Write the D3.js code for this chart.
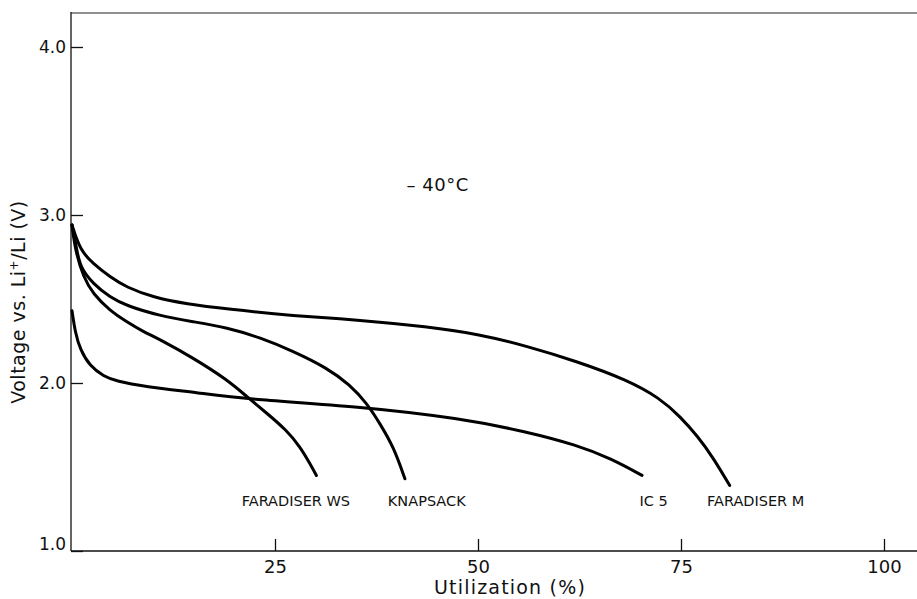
<!DOCTYPE html>
<html>
<head>
<meta charset="utf-8">
<script src="https://cdn.jsdelivr.net/npm/d3@7"></script>
<style>
  body { margin: 0; background: #fff; }
  text { font-family: "DejaVu Sans", sans-serif; fill: #111; }
</style>
</head>
<body>
<svg id="chart"></svg>
<script>
// data (utilization %, voltage V)
var faradiserMUtil = [0, 1.0, 2.6, 4.7, 6.7, 10.0, 14.1, 19.1, 27.2, 35.5, 43.7, 50.2, 56.0, 62.1, 68.3, 72.4, 74.9, 77.1, 78.9, 81.0];
var faradiserMVolt = [2.94, 2.79, 2.71, 2.63, 2.57, 2.51, 2.47, 2.44, 2.40, 2.375, 2.335, 2.29, 2.22, 2.13, 2.02, 1.91, 1.80, 1.68, 1.56, 1.39];

var knapsackUtil = [0, 0.6, 1.0, 2.6, 4.7, 6.7, 10.8, 14.9, 19.1, 23.2, 27.2, 31.4, 34.2, 36.3, 37.9, 39.6, 41.0];
var knapsackVolt = [2.94, 2.79, 2.69, 2.59, 2.51, 2.46, 2.40, 2.365, 2.33, 2.27, 2.19, 2.09, 1.99, 1.88, 1.76, 1.62, 1.43];

var faradiserWsUtil = [0, 0.4, 1.4, 2.6, 4.7, 6.7, 8.8, 10.8, 14.9, 19.1, 21.5, 24.0, 26.4, 28.1, 29.3, 30.1];
var faradiserWsVolt = [2.94, 2.79, 2.63, 2.53, 2.43, 2.365, 2.305, 2.26, 2.15, 2.02, 1.92, 1.82, 1.72, 1.62, 1.52, 1.45];

var ic5Util = [0, 0.4, 1.0, 2.2, 3.9, 5.5, 8.8, 15.8, 21.1, 35.5, 47.8, 56.0, 62.2, 66.4, 70.2];
var ic5Volt = [2.43, 2.30, 2.20, 2.10, 2.04, 2.01, 1.98, 1.94, 1.905, 1.86, 1.79, 1.71, 1.63, 1.55, 1.45];

var seriesNames = ["FARADISER M", "KNAPSACK", "FARADISER WS", "IC 5"];
// where each curve label starts, in utilization %
var labelUtil = [78.2, 38.9, 20.9, 69.9];

var xTicks = [25, 50, 75, 100];
var yTicks = [1.0, 2.0, 3.0, 4.0];
var tempLabel = "– 40°C";

var W = 917, H = 599;
var svg = d3.select("#chart").attr("width", W).attr("height", H);

var x = d3.scaleLinear().domain([0, 100]).range([72, 884]);
var y = d3.scaleLinear().domain([1, 4]).range([551, 47]);

var series = [
  { name: seriesNames[0], u: faradiserMUtil, v: faradiserMVolt, lx: labelUtil[0] },
  { name: seriesNames[1], u: knapsackUtil, v: knapsackVolt, lx: labelUtil[1] },
  { name: seriesNames[2], u: faradiserWsUtil, v: faradiserWsVolt, lx: labelUtil[2] },
  { name: seriesNames[3], u: ic5Util, v: ic5Volt, lx: labelUtil[3] }
];

// frame: left, top and bottom lines (no right edge)
svg.append("line").attr("x1", 71).attr("x2", 71).attr("y1", 12).attr("y2", 551)
  .attr("stroke", "#111").attr("stroke-width", 1.3);
svg.append("line").attr("x1", 71).attr("x2", W).attr("y1", 13).attr("y2", 13)
  .attr("stroke", "#222").attr("stroke-width", 1.2);
svg.append("line").attr("x1", 71).attr("x2", W).attr("y1", 551).attr("y2", 551)
  .attr("stroke", "#111").attr("stroke-width", 1.3);

// x axis, ticks pointing inwards
var gx = svg.append("g").attr("transform", "translate(0,551)")
  .call(d3.axisBottom(x).tickValues(xTicks).tickSizeInner(-12).tickSizeOuter(0).tickPadding(9));
gx.select(".domain").remove();
gx.selectAll("line").attr("stroke", "#111").attr("stroke-width", 1.3);
gx.selectAll("text").style("font-size", "18px").attr("fill", "#111");

// y axis
var gy = svg.append("g").attr("transform", "translate(71,0)")
  .call(d3.axisLeft(y).tickValues(yTicks).tickFormat(d3.format(".1f")).tickSizeInner(-12).tickSizeOuter(0).tickPadding(5));
gy.select(".domain").remove();
gy.selectAll("line").attr("stroke", "#111").attr("stroke-width", 1.3);
gy.selectAll("text").style("font-size", "17px").attr("fill", "#111");
gy.selectAll(".tick").filter(function(d) { return d === 1; }).select("text").attr("dy", "-0.1em");

// curves
var line = d3.line()
  .x(function(d) { return x(d[0]); })
  .y(function(d) { return y(d[1]); })
  .curve(d3.curveBasis);

svg.selectAll("path.curve")
  .data(series)
  .enter().append("path")
  .attr("class", "curve")
  .attr("d", function(s) { return line(d3.zip(s.u, s.v)); })
  .attr("fill", "none")
  .attr("stroke", "#000")
  .attr("stroke-width", 3)
  .attr("stroke-linecap", "round");

// curve labels under the end of each curve
svg.selectAll("text.lbl")
  .data(series)
  .enter().append("text")
  .attr("class", "lbl")
  .attr("x", function(s) { return x(s.lx); })
  .attr("y", 506)
  .style("font-size", "14.5px")
  .text(function(s) { return s.name; });

// temperature note
svg.append("text")
  .attr("x", x(41.2)).attr("y", y(3.14))
  .style("font-size", "18px")
  .style("letter-spacing", "0.5px")
  .text(tempLabel);

// axis titles
svg.append("text")
  .attr("x", 510).attr("y", 594)
  .attr("text-anchor", "middle")
  .style("font-size", "19px")
  .style("letter-spacing", "1.2px")
  .text("Utilization (%)");

var yt = svg.append("text")
  .attr("transform", "translate(25,302) rotate(-90)")
  .attr("text-anchor", "middle")
  .style("font-size", "19px")
  .style("letter-spacing", "0.5px");
yt.append("tspan").text("Voltage vs. Li");
yt.append("tspan").attr("baseline-shift", "super").style("font-size", "12px").text("+");
yt.append("tspan").text("/Li (V)");
</script>
</body>
</html>
